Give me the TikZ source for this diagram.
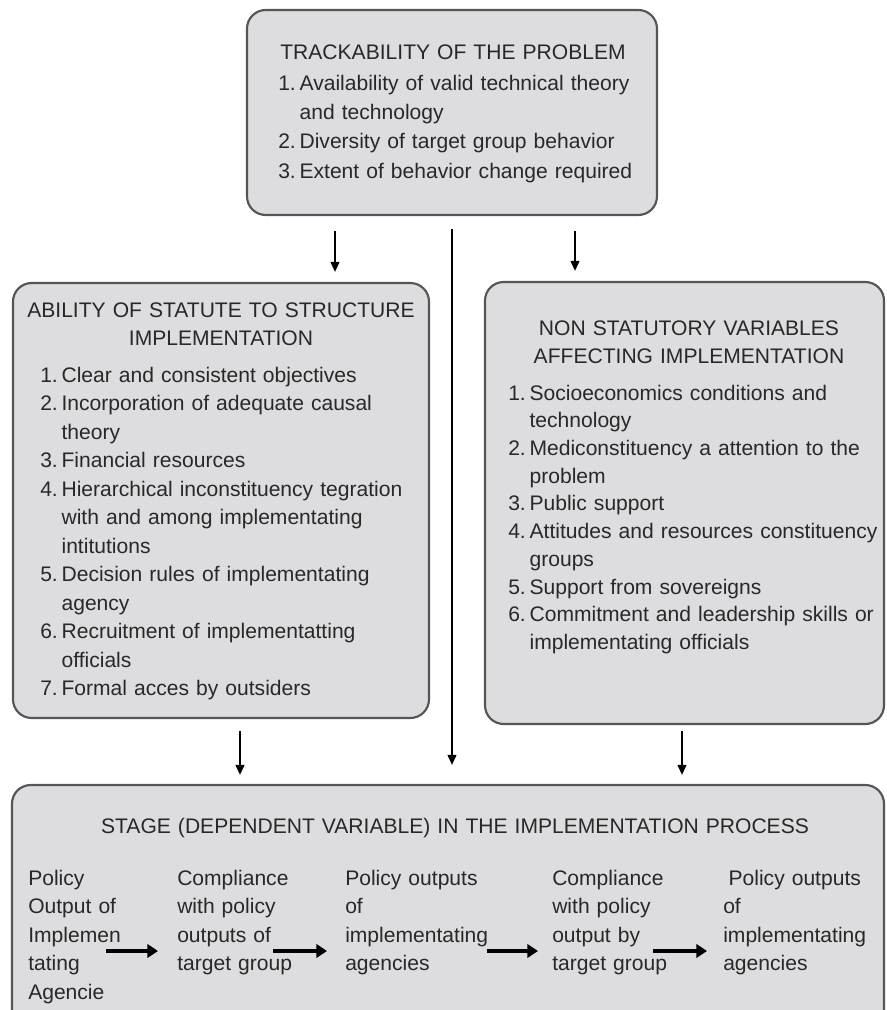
\documentclass[tikz,border=0pt]{standalone}
\usepackage{fontspec}
\setmainfont{Liberation Sans}
\usepackage{tikz}
\usetikzlibrary{arrows.meta}

\newcommand{\itm}[2]{\makebox[16pt][l]{#1}#2}
\newcommand{\cnt}[1]{\hspace*{16pt}#1}

\begin{document}
\begin{tikzpicture}[x=0.75pt,y=0.75pt,yscale=-1,xscale=1,
  box/.style={draw={rgb, 255:red, 85; green, 85; blue, 85}, fill={rgb, 255:red, 221; green, 221; blue, 223}, line width=1.6pt, rounded corners=14pt, inner sep=0pt},
  txt/.style={inner sep=0pt, text={rgb, 255:red, 40; green, 40; blue, 40}, font=\fontsize{15.8}{21.4}\selectfont},
  flow/.style={line width=1.4pt, -{Triangle[length=7.5pt,width=6.5pt]}},
  stagearr/.style={line width=3.6pt, -{Triangle[length=8pt,width=10pt]}}]
\useasboundingbox (0,0) rectangle (887,1010);

%Shape: Rounded Rect [id:top]
\node[box, minimum width=307.5pt, minimum height=153.75pt] (top) at (452,112.5) {};
%Shape: Rounded Rect [id:left]
\node[box, minimum width=312pt, minimum height=326.25pt] (left) at (221,500.5) {};
%Shape: Rounded Rect [id:right]
\node[box, minimum width=299.25pt, minimum height=331.5pt] (right) at (684.5,503) {};
%Shape: Rounded Rect [id:bottom]
\node[box, minimum width=654pt, minimum height=183.75pt] (bottom) at (448,907.5) {};

% Text Node
\node[txt, anchor=base, text width=300pt, align=center] (toptitle) at (453,59) {TRACKABILITY OF THE PROBLEM};
% Text Node
\node[txt, anchor=base west, text width=280pt, align=left, font=\fontsize{15.8}{22}\selectfont] (toplist) at (278,90) {%
\itm{1.}{Availability of valid technical theory}\\
\cnt{and technology}\\
\itm{2.}{Diversity of target group behavior}\\
\itm{3.}{Extent of behavior change required}};

% Text Node
\node[txt, anchor=base, text width=300pt, align=center] (lefttitle) at (221,317) {ABILITY OF STATUTE TO STRUCTURE\\IMPLEMENTATION};
% Text Node
\node[txt, anchor=base west, text width=290pt, align=left] (leftlist) at (40,382) {%
\itm{1.}{Clear and consistent objectives}\\
\itm{2.}{Incorporation of adequate causal}\\
\cnt{theory}\\
\itm{3.}{Financial resources}\\
\itm{4.}{Hierarchical inconstituency tegration}\\
\cnt{with and among implementating}\\
\cnt{intitutions}\\
\itm{5.}{Decision rules of implementating}\\
\cnt{agency}\\
\itm{6.}{Recruitment of implementatting}\\
\cnt{officials}\\
\itm{7.}{Formal acces by outsiders}};

% Text Node
\node[txt, anchor=base, text width=290pt, align=center] (righttitle) at (689,335) {NON STATUTORY VARIABLES\\AFFECTING IMPLEMENTATION};
% Text Node
\node[txt, anchor=base west, text width=285pt, align=left, font=\fontsize{15.8}{20.8}\selectfont] (rightlist) at (508,400) {%
\itm{1.}{Socioeconomics conditions and}\\
\cnt{technology}\\
\itm{2.}{Mediconstituency a attention to the}\\
\cnt{problem}\\
\itm{3.}{Public support}\\
\itm{4.}{Attitudes and resources constituency}\\
\cnt{groups}\\
\itm{5.}{Support from sovereigns}\\
\itm{6.}{Commitment and leadership skills or}\\
\cnt{implementating officials}};

% Text Node
\node[txt, anchor=base, text width=600pt, align=center] (stagetitle) at (455,833) {STAGE (DEPENDENT VARIABLE) IN THE IMPLEMENTATION PROCESS};
% Text Node
\node[txt, anchor=base west, text width=100pt, align=left] (colA) at (28,885) {Policy\\Output of\\Implemen\\tating\\Agencie};
% Text Node
\node[txt, anchor=base west, text width=100pt, align=left] (colB) at (177,885) {Compliance\\with policy\\outputs of\\target group};
% Text Node
\node[txt, anchor=base west, text width=115pt, align=left] (colC) at (345,885) {Policy outputs\\of\\implementating\\agencies};
% Text Node
\node[txt, anchor=base west, text width=100pt, align=left] (colD) at (552,885) {Compliance\\with policy\\output by\\target group};
% Text Node
\node[txt, anchor=base west, text width=115pt, align=left] (colE) at (723,885) {\hspace*{4pt}Policy outputs\\of\\implementating\\agencies};

%Straight Lines
\coordinate (xl) at (335,0);
\coordinate (xr) at (575,0);
\coordinate (xbl) at (240,0);
\coordinate (xbr) at (682,0);
\coordinate (ay) at (0,951);
\draw[flow, shorten <=11.25pt, shorten >=7.5pt] (top.south -| xl) -- (left.north -| xl);
\draw[flow, shorten <=11.25pt, shorten >=7.5pt] (top.south -| xr) -- (right.north -| xr);
\draw[flow, shorten <=9.75pt, shorten >=14.25pt] (top.south) -- (bottom.north -| top.south);
\draw[flow, shorten <=9pt, shorten >=6.75pt] (left.south -| xbl) -- (bottom.north -| xbl);
\draw[flow, shorten <=4.5pt, shorten >=6.75pt] (right.south -| xbr) -- (bottom.north -| xbr);

%Stage arrows
\draw[stagearr] ([xshift=58.5pt]colA.west |- ay) -- ([xshift=-14.25pt]colB.west |- ay);
\draw[stagearr] ([xshift=72pt]colB.west |- ay) -- ([xshift=-13.5pt]colC.west |- ay);
\draw[stagearr] ([xshift=106.5pt]colC.west |- ay) -- ([xshift=-10.5pt]colD.west |- ay);
\draw[stagearr] ([xshift=75.75pt]colD.west |- ay) -- ([xshift=-12pt]colE.west |- ay);

\end{tikzpicture}
\end{document}
